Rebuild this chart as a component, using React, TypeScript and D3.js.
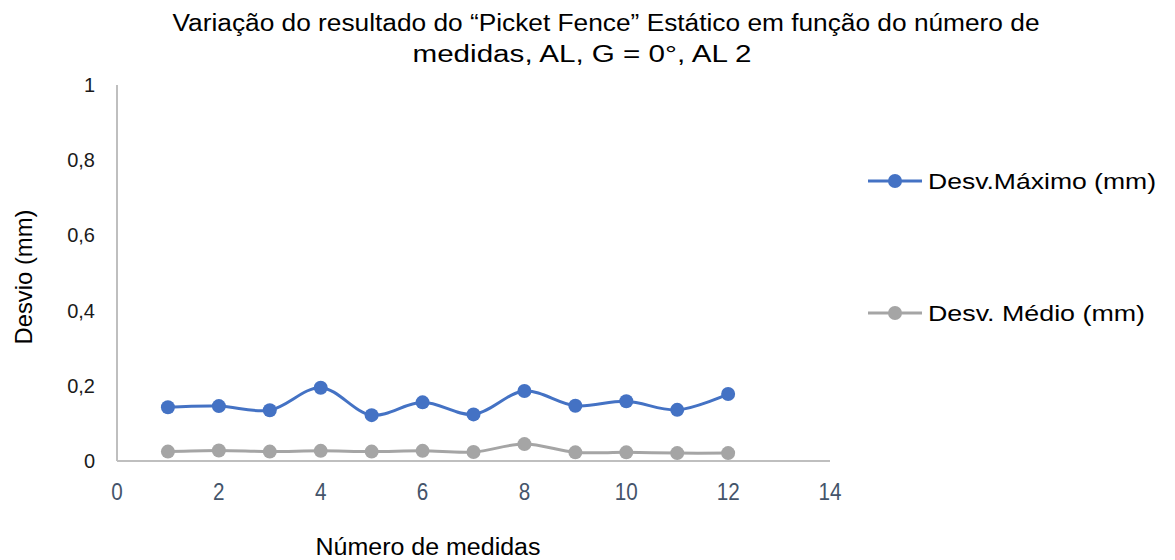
import React from "react";
import * as d3 from "d3";

const xValues = [1, 2, 3, 4, 5, 6, 7, 8, 9, 10, 11, 12];
const desvMaximo = [0.143, 0.146, 0.135, 0.195, 0.122, 0.156, 0.124, 0.186, 0.147, 0.159, 0.136, 0.178];
const desvMedio = [0.025, 0.028, 0.025, 0.027, 0.025, 0.027, 0.024, 0.045, 0.023, 0.023, 0.021, 0.021];
const xTicks = [0, 2, 4, 6, 8, 10, 12, 14];
const yTicks = [0, 0.2, 0.4, 0.6, 0.8, 1];
const seriesNames = ["Desv.Máximo (mm)", "Desv. Médio (mm)"];
const seriesColors = ["#4472C4", "#A5A5A5"];

export default function App() {
  const W = 1175, H = 560;
  const x = d3.scaleLinear().domain([0, 14]).range([117, 830]);
  const y = d3.scaleLinear().domain([0, 1]).range([461, 85]);
  const fmt = (v: number) => String(+v.toFixed(1)).replace(".", ",");
  const line = d3
    .line<number>()
    .x((_, i) => x(xValues[i]))
    .y((d) => y(d))
    .curve(d3.curveCatmullRom.alpha(0.5));
  const series = [desvMaximo, desvMedio];
  const font = "'Liberation Sans', Arial, sans-serif";
  const legendY = [181, 313];
  const legendLen = [228, 217];
  return (
    <svg width={W} height={H} style={{ position: "absolute", left: 0, top: 0, background: "#fff" }} fontFamily={font}>
      <rect x={0} y={0} width={W} height={H} fill="#fff" />
      <text x={606} y={31} fontSize={23} textAnchor="middle" fill="#000" textLength={867} lengthAdjust="spacingAndGlyphs">
        Variação do resultado do “Picket Fence” Estático em função do número de
      </text>
      <text x={582} y={62} fontSize={23} textAnchor="middle" fill="#000" textLength={339} lengthAdjust="spacingAndGlyphs">
        medidas, AL, G = 0°, AL 2
      </text>
      {/* axes */}
      <line x1={x(0)} x2={x(0)} y1={y(1)} y2={y(0)} stroke="#BFBFBF" strokeWidth={2} />
      <line x1={x(0)} x2={x(14)} y1={y(0)} y2={y(0)} stroke="#BFBFBF" strokeWidth={2} />
      {yTicks.map((t) => (
        <text key={t} x={95} y={y(t) + 7} fontSize={20} textAnchor="end" fill="#1a1a1a">
          {fmt(t)}
        </text>
      ))}
      {xTicks.map((t) => (
        <text
          key={t}
          x={x(t)}
          y={500}
          fontSize={23}
          textAnchor="middle"
          fill="#44546A"
          textLength={String(t).length * 11.5}
          lengthAdjust="spacingAndGlyphs"
        >
          {t}
        </text>
      ))}
      <text x={428} y={555} fontSize={23} textAnchor="middle" fill="#000" textLength={225} lengthAdjust="spacingAndGlyphs">
        Número de medidas
      </text>
      <text transform={`translate(32, 277) rotate(-90)`} fontSize={24} textAnchor="middle" fill="#000" textLength={135} lengthAdjust="spacingAndGlyphs">
        Desvio (mm)
      </text>
      {series.map((s, k) => (
        <g key={k}>
          <path d={line(s) || ""} fill="none" stroke={seriesColors[k]} strokeWidth={3} />
          {s.map((v, i) => (
            <circle key={i} cx={x(xValues[i])} cy={y(v)} r={7} fill={seriesColors[k]} />
          ))}
        </g>
      ))}
      {seriesNames.map((n, k) => (
        <g key={n}>
          <line x1={868} x2={922} y1={legendY[k]} y2={legendY[k]} stroke={seriesColors[k]} strokeWidth={3} />
          <circle cx={895} cy={legendY[k]} r={7} fill={seriesColors[k]} />
          <text x={928} y={legendY[k] + 8} fontSize={22} fill="#000" textLength={legendLen[k]} lengthAdjust="spacingAndGlyphs">
            {n}
          </text>
        </g>
      ))}
    </svg>
  );
}
